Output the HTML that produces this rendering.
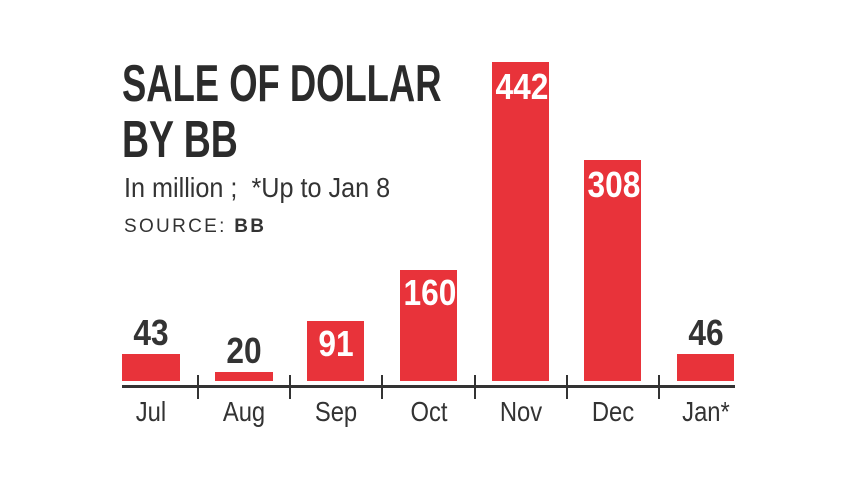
<!DOCTYPE html>
<html><head><meta charset="utf-8"><style>
body{margin:0;width:857px;height:482px;background:#fff;position:relative;overflow:hidden;font-family:"Liberation Sans Narrow","Liberation Sans",sans-serif}
.a{position:absolute}
.bar{position:absolute;background:#e8333a}
.t{position:absolute;white-space:nowrap;transform-origin:0 0}
.v{position:absolute;width:58px;text-align:center;font-weight:bold;font-size:36px;line-height:34px;color:#333;transform:scaleX(.88)}
.w{color:#fff}
.l{position:absolute;width:80px;text-align:center;font-size:28px;line-height:28px;color:#333;transform:scaleX(.85)}
.tick{position:absolute;width:2px;height:24px;top:375px;background:#333}
</style></head><body>
<div class="t" style="left:122px;top:58px;font-size:52px;line-height:52px;font-weight:bold;color:#2b2b2b;transform:scaleX(.70)">SALE OF DOLLAR</div>
<div class="t" style="left:122px;top:114px;font-size:52px;line-height:52px;font-weight:bold;color:#2b2b2b;transform:scaleX(.72)">BY BB</div>
<div class="t" style="left:124px;top:174px;font-size:28px;line-height:28px;color:#333;transform:scaleX(.9)">In million ;&nbsp; *Up to Jan 8</div>
<div class="t" style="left:124px;top:217px;font-size:19px;line-height:19px;color:#333;letter-spacing:2.3px">SOURCE: <b>BB</b></div>

<div class="bar" style="left:122px;top:354px;width:58px;height:27px"></div>
<div class="bar" style="left:215px;top:372px;width:58px;height:9px"></div>
<div class="bar" style="left:307px;top:321px;width:57px;height:60px"></div>
<div class="bar" style="left:400px;top:270px;width:57px;height:111px"></div>
<div class="bar" style="left:492px;top:62px;width:57px;height:319px"></div>
<div class="bar" style="left:584px;top:160px;width:57px;height:221px"></div>
<div class="bar" style="left:677px;top:354px;width:57px;height:27px"></div>

<div class="v" style="left:122px;top:316px">43</div>
<div class="v" style="left:215px;top:334px">20</div>
<div class="v w" style="left:307px;top:327px">91</div>
<div class="v w" style="left:400px;top:276px">160</div>
<div class="v w" style="left:492px;top:70px">442</div>
<div class="v w" style="left:584px;top:168px">308</div>
<div class="v" style="left:677px;top:316px">46</div>

<div class="a" style="left:122px;top:385px;width:613px;height:3px;background:#333"></div>
<div class="tick" style="left:197px"></div>
<div class="tick" style="left:289px"></div>
<div class="tick" style="left:381px"></div>
<div class="tick" style="left:474px"></div>
<div class="tick" style="left:566px"></div>
<div class="tick" style="left:658px"></div>

<div class="l" style="left:111px;top:398px">Jul</div>
<div class="l" style="left:204px;top:398px">Aug</div>
<div class="l" style="left:296px;top:398px">Sep</div>
<div class="l" style="left:389px;top:398px">Oct</div>
<div class="l" style="left:481px;top:398px">Nov</div>
<div class="l" style="left:573px;top:398px">Dec</div>
<div class="l" style="left:666px;top:398px">Jan*</div>
</body></html>
